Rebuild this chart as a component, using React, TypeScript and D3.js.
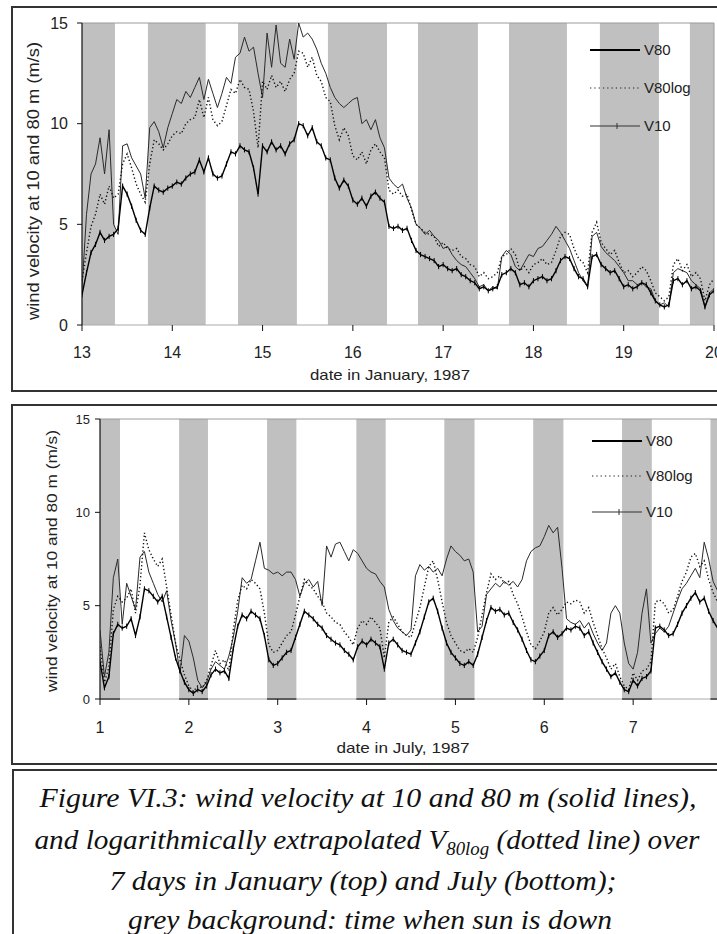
import React from "react";
import * as d3 from "d3";

const STEP = 0.05;
const yTicks = [0, 5, 10, 15];
const janDays = [13, 14, 15, 16, 17, 18, 19, 20];
const julDays = [1, 2, 3, 4, 5, 6, 7, 8];
const legendLabels = ["V80", "V80log", "V10"];

const janNights: [number, number][] = [
  [13.0, 13.365], [13.73, 14.37], [14.728, 15.38], [15.724, 16.378],
  [16.721, 17.385], [17.729, 18.371], [18.736, 19.39], [19.733, 20.0],
];
const julNights: [number, number][] = [
  [1.0, 1.225], [1.89, 2.215], [2.88, 3.21], [3.885, 4.215],
  [4.875, 5.215], [5.875, 6.215], [6.875, 7.21], [7.87, 8.0],
];

// January 13-20, 1987, sampled every 0.05 day
const janV80 = [
  1.8, 5.5, 7.5, 8.0, 9.3, 7.5, 9.7, 5.0, 4.5, 8.9, 9.0, 8.3, 7.9, 7.5, 6.3, 9.8, 10.1, 9.6, 8.8, 9.8,
  10.5, 11.2, 11.0, 11.6, 11.3, 11.8, 12.3, 11.2, 12.2, 11.5, 10.8, 11.5, 12.3, 12.0, 13.3, 13.5, 14.3, 13.6, 13.8, 12.5,
  11.3, 14.5, 12.8, 14.9, 13.0, 12.8, 14.2, 13.2, 15.0, 14.3, 14.5, 14.2, 13.7, 13.0, 12.5, 11.8, 11.3, 11.0, 10.8, 11.0,
  11.2, 11.3, 10.0, 10.2, 9.7, 10.2, 9.3, 8.8, 7.3, 7.0, 6.8, 7.0, 6.3, 5.8, 5.0, 4.8, 4.5, 4.7, 4.4, 4.2,
  3.8, 3.9, 3.5, 3.2, 3.0, 2.9, 2.6, 2.3, 1.9, 2.0, 1.7, 1.9, 1.8, 3.4, 3.7, 3.5, 2.9, 2.7, 3.1, 3.5,
  3.4, 3.8, 3.9, 4.2, 4.5, 4.9, 4.6, 4.2, 3.8, 3.2, 2.6, 2.2, 1.9, 4.4, 4.6, 3.9, 3.6, 3.4, 3.2, 2.9,
  2.6, 2.2, 2.2, 2.0, 2.1, 1.9, 1.8, 1.2, 1.0, 1.1, 0.9, 2.6, 2.8, 2.7, 2.6, 2.2, 2.0, 1.8, 0.9, 1.6,
  1.8,
];
const janV80log = [
  2.2, 3.6, 4.9, 5.5, 6.5, 6.0, 6.9, 6.3, 6.5, 8.0, 8.5, 7.8, 7.0, 6.5, 6.1, 8.0, 9.2, 9.0, 8.7, 9.0,
  9.4, 9.6, 9.5, 10.0, 10.2, 10.3, 11.2, 10.3, 11.3, 10.2, 9.9, 10.1, 10.9, 11.7, 11.5, 12.2, 11.8, 11.7, 10.6, 8.8,
  12.1, 11.7, 12.4, 11.8, 12.1, 11.6, 12.2, 12.5, 13.6, 13.5, 12.8, 13.3, 12.4, 12.1, 11.3, 11.1, 9.9, 9.2, 9.8, 9.4,
  8.4, 8.2, 8.6, 8.0, 8.7, 9.0, 8.6, 8.3, 6.7, 6.5, 6.7, 6.4, 6.5, 5.7, 5.0, 4.8, 4.6, 4.5, 4.4, 3.9,
  4.1, 3.8, 3.7, 3.8, 3.4, 3.3, 3.0, 2.9, 2.4, 2.6, 2.3, 2.4, 2.6, 3.4, 3.5, 3.8, 3.5, 2.7, 2.9, 2.6,
  3.0, 3.1, 3.3, 3.0, 3.1, 3.7, 4.4, 4.6, 4.5, 3.8, 3.3, 3.1, 2.6, 4.6, 5.1, 4.1, 3.8, 3.5, 3.7, 3.1,
  2.6, 2.7, 2.4, 2.6, 2.9, 2.7, 2.2, 1.6, 1.4, 1.2, 1.4, 3.0, 3.3, 2.7, 3.0, 2.4, 2.6, 2.3, 1.2, 2.0,
  2.3,
];
const janV10 = [
  1.5, 2.6, 3.6, 4.0, 4.6, 4.2, 4.4, 4.5, 4.8, 6.9, 6.5, 5.9, 5.2, 4.7, 4.5, 5.8, 6.9, 6.7, 6.6, 6.8,
  6.9, 7.1, 7.0, 7.3, 7.5, 7.6, 8.2, 7.6, 8.3, 7.5, 7.3, 7.4, 8.0, 8.6, 8.5, 8.9, 8.7, 8.6, 7.8, 6.5,
  8.9, 8.6, 9.1, 8.7, 8.9, 8.5, 9.0, 9.2, 10.0, 9.9, 9.4, 9.8, 9.1, 8.9, 8.3, 8.2, 7.3, 6.8, 7.2, 6.9,
  6.2, 6.0, 6.3, 5.9, 6.4, 6.6, 6.3, 6.1, 4.9, 4.8, 4.9, 4.7, 4.8, 4.2, 3.7, 3.5, 3.4, 3.3, 3.2, 2.9,
  3.0, 2.8, 2.7, 2.8, 2.5, 2.4, 2.2, 2.1, 1.8, 1.9, 1.7, 1.8, 1.9, 2.5, 2.6, 2.8, 2.6, 2.0, 2.1, 1.9,
  2.2, 2.3, 2.4, 2.2, 2.3, 2.7, 3.2, 3.4, 3.3, 2.8, 2.4, 2.3, 1.9, 3.4, 3.5, 3.0, 2.8, 2.6, 2.7, 2.3,
  1.9, 2.0, 1.8, 1.9, 2.1, 2.0, 1.6, 1.2, 1.0, 0.9, 1.0, 2.2, 2.3, 2.0, 2.2, 1.8, 1.9, 1.7, 0.9, 1.5,
  1.7,
];

// July 1-8, 1987, sampled every 0.05 day
const julV80 = [
  3.7, 1.2, 2.5, 6.5, 7.5, 4.0, 6.2, 5.5, 4.8, 7.6, 7.9, 6.8, 6.2, 5.6, 5.2, 5.8, 4.2, 3.0, 1.4, 3.4,
  3.1, 2.2, 1.0, 0.6, 0.9, 1.6, 2.0, 1.8, 1.6, 2.3, 3.3, 4.7, 6.5, 6.2, 6.4, 7.4, 8.4, 7.0, 6.9, 6.7,
  6.8, 6.6, 6.8, 6.8, 6.4, 5.5, 6.2, 6.4, 6.0, 6.3, 5.0, 8.2, 7.6, 8.3, 8.4, 7.9, 7.4, 8.0, 7.8, 7.4,
  7.0, 6.8, 6.7, 6.3, 6.0, 4.8, 4.2, 3.8, 3.6, 3.4, 3.7, 6.6, 7.2, 6.9, 7.1, 6.8, 7.0, 6.6, 7.5, 8.2,
  7.9, 7.7, 7.4, 7.5, 6.8, 3.6, 3.9, 5.6, 5.9, 6.2, 6.0, 6.3, 6.1, 6.3, 6.0, 6.4, 7.4, 7.9, 8.1, 8.2,
  8.7, 9.3, 8.9, 9.2, 7.0, 4.3, 4.1, 4.0, 4.2, 3.8, 4.1, 3.5, 3.0, 2.6, 3.0, 4.6, 5.0, 4.6, 3.0, 1.9,
  1.6, 2.5, 4.6, 5.9, 3.0, 3.5, 3.8, 3.6, 3.9, 4.6, 5.3, 5.9, 6.2, 6.6, 7.0, 6.5, 8.4, 7.5, 6.3, 5.8,
  5.5,
];
const julV80log = [
  2.8, 0.9, 1.7, 4.8, 5.5, 5.2, 5.4, 5.9, 4.6, 6.1, 8.9, 8.0, 7.5, 7.1, 7.5, 6.0, 4.5, 3.0, 2.1, 1.3,
  0.7, 0.4, 0.7, 0.6, 1.0, 1.8, 2.6, 1.9, 2.1, 1.5, 3.7, 5.3, 6.1, 5.9, 6.4, 6.2, 5.9, 4.6, 2.9, 2.5,
  2.6, 3.0, 3.4, 3.6, 4.5, 5.5, 6.4, 6.1, 5.9, 5.5, 5.2, 4.6, 4.4, 4.1, 4.0, 3.6, 3.3, 2.9, 3.8, 4.2,
  4.0, 4.4, 4.1, 3.8, 2.2, 4.1, 4.4, 4.0, 3.6, 3.4, 3.3, 4.1, 4.9, 6.0, 7.1, 7.4, 6.4, 5.2, 4.1, 3.4,
  3.0, 2.6, 2.5, 2.7, 2.5, 3.3, 4.5, 5.7, 6.7, 6.4, 6.6, 6.2, 6.3, 5.6, 5.1, 4.4, 3.6, 2.9, 2.7, 3.1,
  3.6, 4.6, 4.9, 4.5, 4.8, 5.2, 5.1, 5.3, 5.2, 4.6, 4.9, 4.1, 3.4, 2.7, 2.2, 1.6, 1.9, 1.2, 0.7, 0.5,
  1.4, 1.0, 1.5, 1.6, 2.0, 5.2, 5.3, 5.1, 4.6, 4.8, 5.5, 6.3, 6.8, 7.6, 7.8, 7.1, 7.4, 6.4, 5.7, 5.2,
  4.8,
];
const julV10 = [
  2.0, 0.6, 1.2, 3.5, 4.0, 3.8, 3.9, 4.3, 3.4, 4.4, 5.9, 5.8, 5.5, 5.2, 5.5, 4.4, 3.3, 2.2, 1.5, 0.9,
  0.5, 0.3, 0.5, 0.4, 0.7, 1.3, 1.6, 1.4, 1.5, 1.1, 2.7, 3.9, 4.5, 4.3, 4.7, 4.5, 4.3, 3.4, 2.1, 1.8,
  1.9, 2.2, 2.5, 2.6, 3.3, 4.0, 4.7, 4.5, 4.3, 4.0, 3.8, 3.4, 3.2, 3.0, 2.9, 2.6, 2.4, 2.1, 2.8, 3.1,
  2.9, 3.2, 3.0, 2.8, 1.6, 3.0, 3.2, 2.9, 2.6, 2.5, 2.4, 3.0, 3.6, 4.4, 5.2, 5.4, 4.7, 3.8, 3.0, 2.5,
  2.2, 1.9, 1.8, 2.0, 1.8, 2.4, 3.3, 4.2, 4.9, 4.7, 4.8, 4.5, 4.6, 4.1, 3.7, 3.2, 2.6, 2.1, 2.0, 2.3,
  2.6, 3.4, 3.6, 3.3, 3.5, 3.8, 3.7, 3.9, 3.8, 3.4, 3.6, 3.0, 2.5, 2.0, 1.6, 1.2, 1.4, 0.9, 0.5, 0.4,
  1.0, 0.7, 1.1, 1.2, 1.5, 3.8, 3.9, 3.7, 3.4, 3.5, 4.0, 4.6, 5.0, 5.4, 5.7, 5.2, 5.4, 4.7, 4.2, 3.8,
  3.5,
];

const captionLines = [
  "Figure VI.3: wind velocity  at 10 and 80 m (solid lines),",
  "7 days in January (top) and July (bottom);",
  "grey background: time when sun is down",
];

const SANS = "Liberation Sans, Arial, sans-serif";
const SERIF = "Times New Roman, Liberation Serif, Times, serif";
const TXT = "#222";

type PanelProps = {
  id: string;
  boxY: number;
  boxH: number;
  px0: number;
  px1: number;
  py0: number;
  py1: number;
  days: number[];
  start: number;
  v80: number[];
  v80log: number[];
  v10: number[];
  nights: [number, number][];
  bandBase: boolean;
  yLabelX: number;
  yLabelSize: number;
  xLabelY: number;
  xLabelSize: number;
  yTitle: { x: number; y: number; len: number; size: number };
  xTitle: { text: string; x: number; y: number; len: number };
  legend: { x0: number; x1: number; ys: number[] };
};

function Panel(p: PanelProps) {
  const x = d3.scaleLinear().domain([p.days[0], p.days[p.days.length - 1]]).range([p.px0, p.px1]);
  const y = d3.scaleLinear().domain([0, 15]).range([p.py1, p.py0]);
  const line = d3
    .line<number>()
    .x((_, i) => x(p.start + i * STEP))
    .y((d) => y(d));
  const markers = p.v10
    .map((d, i) => {
      const cx = x(p.start + i * STEP);
      const cy = y(d);
      return `M${cx},${cy - 2.6}V${cy + 2.6}`;
    })
    .join("");
  const clip = `clip-${p.id}`;
  const right = Math.min(p.px1, 717);
  const lg = p.legend;
  const legMid = (lg.x0 + lg.x1) / 2 + 2;

  return (
    <g>
      <defs>
        <clipPath id={clip}>
          <rect x={p.px0} y={p.py0 - 1} width={right - p.px0} height={p.py1 - p.py0 + 2} />
        </clipPath>
      </defs>
      <rect x={12} y={p.boxY} width={712} height={p.boxH} fill="white" stroke="#333" strokeWidth={2} />
      {p.nights.map(([a, b], i) => (
        <rect key={i} x={x(a)} y={y(15)} width={x(b) - x(a)} height={y(0) - y(15)} fill="#c0c0c0" />
      ))}
      {p.bandBase &&
        p.nights.map(([a, b], i) => (
          <line key={i} x1={x(a)} x2={x(b)} y1={y(0)} y2={y(0)} stroke="#111" strokeWidth={2} />
        ))}
      <line x1={p.px0} x2={p.px1} y1={y(15)} y2={y(15)} stroke="#9a9a9a" strokeWidth={1} />
      <line x1={p.px1} x2={p.px1} y1={y(15)} y2={y(0)} stroke="#9a9a9a" strokeWidth={1} />
      <line x1={p.px0} x2={p.px1} y1={y(0)} y2={y(0)} stroke="#aaaaaa" strokeWidth={1} />
      <line x1={p.px0} x2={p.px0} y1={y(15)} y2={y(0)} stroke="#111" strokeWidth={1.2} />
      {yTicks.map((t) => (
        <g key={t}>
          <line x1={p.px0 - 5} x2={p.px0} y1={y(t)} y2={y(t)} stroke="#111" strokeWidth={1} />
          <text
            x={p.yLabelX}
            y={y(t)}
            dy="0.36em"
            textAnchor="end"
            fontFamily={SANS}
            fontSize={p.yLabelSize}
            fill={TXT}
          >
            {t}
          </text>
        </g>
      ))}
      {p.days.map((d) => (
        <g key={d}>
          <line x1={x(d)} x2={x(d)} y1={y(0)} y2={y(0) + 6} stroke="#111" strokeWidth={1} />
          <text x={x(d)} y={p.xLabelY} textAnchor="middle" fontFamily={SANS} fontSize={p.xLabelSize} fill={TXT}>
            {d}
          </text>
        </g>
      ))}
      <g clipPath={`url(#${clip})`}>
        <path d={line(p.v80) || ""} fill="none" stroke="#2a2a2a" strokeWidth={1} />
        <path
          d={line(p.v80log) || ""}
          fill="none"
          stroke="#111"
          strokeWidth={1.4}
          strokeDasharray="1.3,2.4"
        />
        <path d={line(p.v10) || ""} fill="none" stroke="#000" strokeWidth={1.4} />
        <path d={markers} fill="none" stroke="#000" strokeWidth={1} />
      </g>
      {/* legend */}
      <line x1={lg.x0} x2={lg.x1} y1={lg.ys[0]} y2={lg.ys[0]} stroke="#000" strokeWidth={2} />
      <line
        x1={lg.x0}
        x2={lg.x1}
        y1={lg.ys[1]}
        y2={lg.ys[1]}
        stroke="#222"
        strokeWidth={1.2}
        strokeDasharray="1.3,3"
      />
      <line x1={lg.x0} x2={lg.x1} y1={lg.ys[2]} y2={lg.ys[2]} stroke="#333" strokeWidth={1.2} />
      <line x1={legMid} x2={legMid} y1={lg.ys[2] - 3} y2={lg.ys[2] + 3} stroke="#333" strokeWidth={1} />
      {legendLabels.map((l, i) => (
        <text key={l} x={lg.x1 + 4} y={lg.ys[i]} dy="0.36em" fontFamily={SANS} fontSize={15} fill={TXT}>
          {l}
        </text>
      ))}
      <text
        transform={`translate(${p.yTitle.x},${p.yTitle.y}) rotate(-90)`}
        dy="0.35em"
        textAnchor="middle"
        fontFamily={SANS}
        fontSize={p.yTitle.size}
        fill={TXT}
        textLength={p.yTitle.len}
        lengthAdjust="spacingAndGlyphs"
      >
        wind velocity at 10 and 80 m (m/s)
      </text>
      <text
        x={p.xTitle.x}
        y={p.xTitle.y}
        textAnchor="middle"
        fontFamily={SANS}
        fontSize={15}
        fill={TXT}
        textLength={p.xTitle.len}
        lengthAdjust="spacingAndGlyphs"
      >
        {p.xTitle.text}
      </text>
    </g>
  );
}

export default function App() {
  return (
    <svg
      width={717}
      height={934}
      viewBox="0 0 717 934"
      style={{ position: "absolute", left: 0, top: 0, background: "white", display: "block" }}
    >
      <rect x={0} y={0} width={717} height={934} fill="white" />
      <Panel
        id="jan"
        boxY={7}
        boxH={384}
        px0={82}
        px1={714}
        py0={23}
        py1={325}
        days={janDays}
        start={13}
        v80={janV80}
        v80log={janV80log}
        v10={janV10}
        nights={janNights}
        bandBase={false}
        yLabelX={68}
        yLabelSize={16}
        xLabelY={358}
        xLabelSize={16}
        yTitle={{ x: 33, y: 181, len: 278, size: 16 }}
        xTitle={{ text: "date in January, 1987", x: 390, y: 380, len: 160 }}
        legend={{ x0: 590, x1: 640, ys: [50, 88, 126] }}
      />
      <Panel
        id="jul"
        boxY={405}
        boxH={359}
        px0={100}
        px1={722}
        py0={419}
        py1={699}
        days={julDays}
        start={1}
        v80={julV80}
        v80log={julV80log}
        v10={julV10}
        nights={julNights}
        bandBase={true}
        yLabelX={90}
        yLabelSize={13}
        xLabelY={733}
        xLabelSize={16}
        yTitle={{ x: 52, y: 561, len: 262, size: 15 }}
        xTitle={{ text: "date in July, 1987", x: 403, y: 753, len: 133 }}
        legend={{ x0: 592, x1: 642, ys: [441, 476, 512] }}
      />
      {/* caption */}
      <rect x={13} y={770} width={712} height={180} fill="white" stroke="#333" strokeWidth={2} />
      <g fontFamily={SERIF} fontStyle="italic" fontSize={28} fill="#111" textAnchor="middle">
        <text x={368} y={807} textLength={657} lengthAdjust="spacingAndGlyphs">
          {captionLines[0]}
        </text>
        <text x={367} y={848.5} textLength={665} lengthAdjust="spacingAndGlyphs">
          and logarithmically extrapolated V
          <tspan fontSize={18} dy={6}>
            80log
          </tspan>
          <tspan dy={-6}> (dotted line) over</tspan>
        </text>
        <text x={363} y={890} textLength={507} lengthAdjust="spacingAndGlyphs">
          {captionLines[1]}
        </text>
        <text x={370} y={929} textLength={484} lengthAdjust="spacingAndGlyphs">
          {captionLines[2]}
        </text>
      </g>
    </svg>
  );
}
